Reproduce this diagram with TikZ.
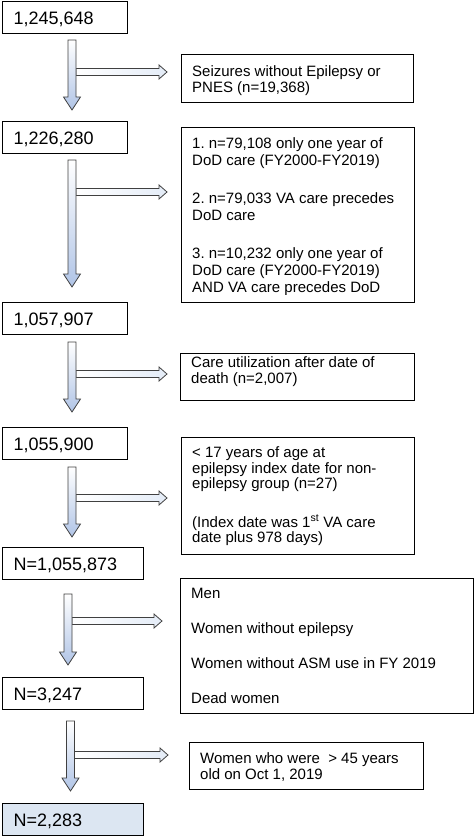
\documentclass[tikz,border=0pt]{standalone}
\usepackage{fontspec}
\setmainfont{Liberation Sans}
\frenchspacing
\usetikzlibrary{calc}

\definecolor{countfill}{RGB}{220,230,242}
\definecolor{shaftblue}{RGB}{176,196,230}
\definecolor{sidetint}{RGB}{228,236,247}

% block arrows: #1 = start, #2 = tip
\newcommand{\downshaft}[2]{%
  \path[down shaft] let \p1=(#1), \p2=(#2) in
    (\x1-4pt,\y1) -- (\x1+4pt,\y1) -- (\x1+4pt,\y2+13pt) -- (\x1+8.5pt,\y2+13pt)
    -- (\x1,\y2) -- (\x1-8.5pt,\y2+13pt) -- (\x1-4pt,\y2+13pt) -- cycle;}
\newcommand{\sideshaft}[2]{%
  \path[side shaft] let \p1=(#1), \p2=(#2) in
    (\x1,\y1+3.5pt) -- (\x2-8pt,\y1+3.5pt) -- (\x2-8pt,\y1+7pt) -- (\x2,\y1)
    -- (\x2-8pt,\y1-7pt) -- (\x2-8pt,\y1-3.5pt) -- (\x1,\y1-3.5pt) -- cycle;}

\begin{document}
\begin{tikzpicture}[x=1pt,y=-1pt]
		\tikzstyle{count}=[draw, line width=1.3pt, anchor=north west, align=left, inner xsep=11pt, inner ysep=0pt, minimum height=32pt, text width=103pt, text height=13pt, text depth=0pt, font=\fontsize{18}{20}\selectfont]
		\tikzstyle{count wide}=[count, text width=119pt]
		\tikzstyle{excl}=[draw, line width=1.3pt, anchor=north west, inner sep=0pt]
		\tikzstyle{excl text}=[anchor=west, align=left, inner sep=0pt, font=\fontsize{15}{16}\selectfont]
		\tikzstyle{down shaft}=[draw=black!75, line width=0.8pt, top color=white, bottom color=shaftblue]
		\tikzstyle{side shaft}=[draw=black!75, line width=0.8pt, left color=white, right color=sidetint]

		\useasboundingbox (0,0) rectangle (475,837);

		% counts on the left
		\node [count] (n1) at (2,1) {1,245,648};
		\node [count] (n2) at (2,121) {1,226,280};
		\node [count] (n3) at (2,302) {1,057,907};
		\node [count] (n4) at (2,427) {1,055,900};
		\node [count wide] (n5) at (2,547) {N=1,055,873};
		\node [count wide] (n6) at (2,677) {N=3,247};
		\node [count wide, fill=countfill] (n7) at (2,803) {N=2,283};

		% exclusions on the right
		\node [excl, minimum width=232pt, minimum height=48pt] (x1) at (181,54) {};
		\node [excl text, yshift=-2pt] (x1t) at ([xshift=11pt]x1.west)
			{Seizures without Epilepsy or\\PNES (n=19,368)};
		\node [excl, minimum width=233pt, minimum height=175pt] (x2) at (181,127) {};
		\begin{scope}
			\clip (x2.north west) rectangle ([yshift=8.5pt]x2.south east);
			\node [excl text, yshift=-1.5pt, font=\fontsize{15}{17}\selectfont] (x2t) at ([xshift=11pt]x2.west)
				{1. n=79,108 only one year of\\DoD care (FY2000-FY2019)\\[21pt]
				 2. n=79,033 VA care precedes\\DoD care\\[21pt]
				 3. n=10,232 only one year of\\DoD care (FY2000-FY2019)\\AND VA care precedes DoD};
		\end{scope}
		\node [excl, minimum width=234pt, minimum height=47pt] (x3) at (180,353) {};
		\node [excl text, yshift=6pt] (x3t) at ([xshift=11pt]x3.west)
			{Care utilization after date of\\death (n=2,007)};
		\node [excl, minimum width=233pt, minimum height=117pt] (x4) at (181,437) {};
		\node [excl text, font=\fontsize{15}{15.5}\selectfont] (x4t) at ([xshift=11pt]x4.west)
			{< 17 years of age at\\epilepsy index date for non-\\epilepsy group (n=27)\\[23pt]
			 (Index date was 1\textsuperscript{st} VA care\\date plus 978 days)};
		\node [excl, minimum width=293pt, minimum height=135pt] (x5) at (180,578) {};
		\node [excl text, font=\fontsize{15}{17}\selectfont] (x5t) at ([xshift=11pt]x5.west)
			{Men\\[18pt]Women without epilepsy\\[18pt]Women without ASM use in FY 2019\\[18pt]Dead women};
		\node [excl, minimum width=234pt, minimum height=47pt] (x6) at (189,742) {};
		\node [excl text, yshift=-1pt] (x6t) at ([xshift=11pt]x6.west)
			{Women who were~ > 45 years\\old on Oct 1, 2019};

		% arrow ends
		\coordinate (v1a) at (72,40);   \coordinate (v1b) at (72,110);
		\coordinate (v2a) at (72,160);  \coordinate (v2b) at (72,287);
		\coordinate (v3a) at (72,342);  \coordinate (v3b) at (72,412);
		\coordinate (v4a) at (72,467);  \coordinate (v4b) at (72,537);
		\coordinate (v5a) at (68,594);  \coordinate (v5b) at (68,665);
		\coordinate (v6a) at (70.5,721); \coordinate (v6b) at (70.5,791);
		\coordinate (h1a) at (76,72);   \coordinate (h1b) at (167,72);
		\coordinate (h2a) at (76,192);  \coordinate (h2b) at (167,192);
		\coordinate (h3a) at (76,374);  \coordinate (h3b) at (167,374);
		\coordinate (h4a) at (76,498);  \coordinate (h4b) at (167,498);
		\coordinate (h5a) at (72,621);  \coordinate (h5b) at (162,621);
		\coordinate (h6a) at (74.5,755); \coordinate (h6b) at (168,755);

		\sideshaft{h1a}{h1b} \downshaft{v1a}{v1b}
		\sideshaft{h2a}{h2b} \downshaft{v2a}{v2b}
		\sideshaft{h3a}{h3b} \downshaft{v3a}{v3b}
		\sideshaft{h4a}{h4b} \downshaft{v4a}{v4b}
		\sideshaft{h5a}{h5b} \downshaft{v5a}{v5b}
		\sideshaft{h6a}{h6b} \downshaft{v6a}{v6b}
	\end{tikzpicture}
\end{document}
